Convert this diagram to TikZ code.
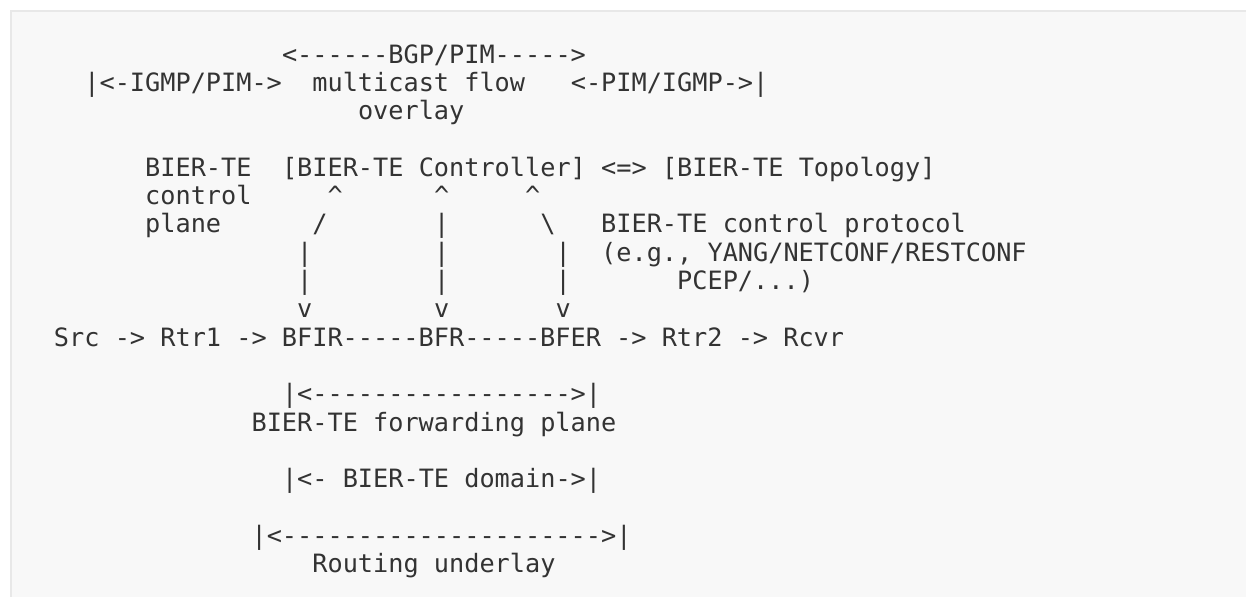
\documentclass[tikz,border=0pt]{standalone}
\usepackage{fontspec}
\setmonofont{DejaVu Sans Mono}

\definecolor{boxfill}{HTML}{F8F8F8}
\definecolor{boxline}{HTML}{E8E8E8}
\definecolor{ink}{HTML}{333333}
\tikzset{txt/.style={anchor=base west, inner sep=0pt, outer sep=0pt, text=ink,
    font=\ttfamily\fontsize{12.62pt}{14pt}\selectfont}}

\begin{document}
\begin{tikzpicture}[x=7.6pt, y=-14.15pt]
        \useasboundingbox (-27pt,31.6pt) rectangle (596pt,-266.9pt);
        % grey figure box
        \fill[boxfill] (-21.5pt,26.1pt) rectangle (596pt,-266.9pt);
        \draw[boxline, line width=0.75pt] (-21.5pt,-266.9pt) -- (-21.5pt,26.1pt) -- (596pt,26.1pt);
        % multicast flow overlay
        \node[txt] (bgp)     at (15,0) {<------BGP/PIM----->};
        \node[txt] (igmp)    at (2,1)  {|<-IGMP/PIM->};
        \node[txt] (flow)    at (17,1) {multicast flow};
        \node[txt] (pim)     at (34,1) {<-PIM/IGMP->|};
        \node[txt] (overlay) at (20,2) {overlay};
        % control plane
        \node[txt] (cp1)   at (6,4)  {BIER-TE};
        \node[txt] (ctrl)  at (15,4) {[BIER-TE Controller]};
        \node[txt] (equiv) at (36,4) {<=>};
        \node[txt] (topo)  at (40,4) {[BIER-TE Topology]};
        \node[txt] (cp2)   at (6,5)  {control};
        \node[txt] (cp3)   at (6,6)  {plane};
        \node[txt] (upa)   at (18,5) {\textasciicircum};
        \node[txt] (upb)   at (25,5) {\textasciicircum};
        \node[txt] (upc)   at (31,5) {\textasciicircum};
        \node[txt] (slash) at (17,6) {/};
        \node[txt] (barb)  at (25,6) {|};
        \node[txt] (bslash) at (32,6) {\textbackslash};
        \foreach \r in {7,8}
            \foreach \c in {16,25,33}
                \node[txt] (bar-\c-\r) at (\c,\r) {|};
        \node[txt] (dna)   at (16,9) {v};
        \node[txt] (dnb)   at (25,9) {v};
        \node[txt] (dnc)   at (33,9) {v};
        % control protocol
        \node[txt] (proto) at (36,6) {BIER-TE control protocol};
        \node[txt] (eg)    at (36,7) {(e.g., YANG/NETCONF/RESTCONF};
        \node[txt] (pcep)  at (41,8) {PCEP/...)};
        % data path
        \node[txt] (path)  at (0,10) {Src -> Rtr1 -> BFIR-----BFR-----BFER -> Rtr2 -> Rcvr};
        % spans below
        \node[txt] (fwdspan) at (15,12) {|<----------------->|};
        \node[txt] (fwd)     at (13,13) {BIER-TE forwarding plane};
        \node[txt] (domain)  at (15,15) {|<- BIER-TE domain->|};
        \node[txt] (undspan) at (13,17) {|<--------------------->|};
        \node[txt] (under)   at (17,18) {Routing underlay};
    \end{tikzpicture}
\end{document}
